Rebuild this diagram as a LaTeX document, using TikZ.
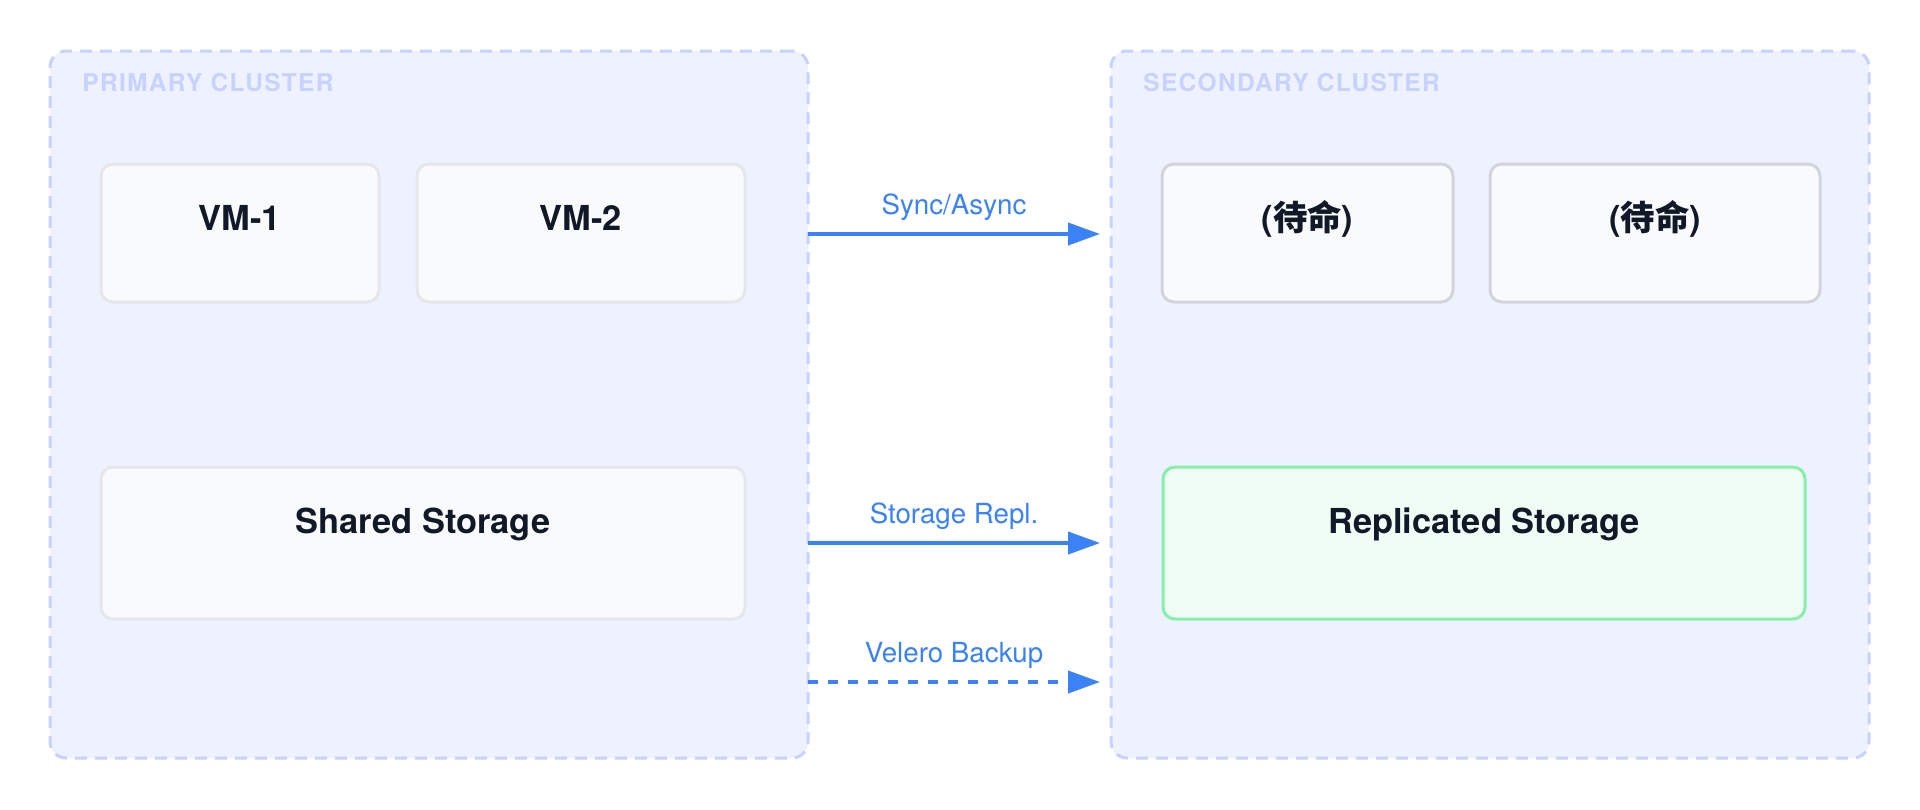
\documentclass[tikz,border=0pt]{standalone}
\usepackage{fontspec}
\setmainfont{TeX Gyre Heros}
\newfontfamily\cjk{Noto Sans CJK SC}
\newfontfamily\titlefont{TeX Gyre Heros}[LetterSpace=5.4]
\usetikzlibrary{arrows.meta}
\definecolor{clfill}{HTML}{EEF2FF}
\definecolor{cldraw}{HTML}{C7D2FE}
\definecolor{boxfill}{HTML}{F8FAFC}
\definecolor{boxdraw}{HTML}{E5E7EB}
\definecolor{sbdraw}{HTML}{D1D5DB}
\definecolor{grfill}{HTML}{F0FDF4}
\definecolor{grdraw}{HTML}{86EFAC}
\definecolor{txt}{HTML}{111827}
\definecolor{flowc}{HTML}{3B82F6}
\begin{document}
\begin{tikzpicture}[x=0.5pt,y=-0.5pt,
  cluster/.style={draw=cldraw, fill=clfill, line width=1.5pt, dash pattern=on 6pt off 4pt,
    rounded corners=8pt, minimum width=379pt, minimum height=353.5pt, inner sep=0pt, outer sep=0pt},
  cltitle/.style={anchor=base west, inner sep=0pt, text=cldraw, font=\titlefont\bfseries\fontsize{12.25pt}{14pt}\selectfont},
  vmbox/.style={draw=boxdraw, fill=boxfill, line width=1.5pt, rounded corners=6pt,
    inner xsep=0pt, inner ysep=0pt, text height=33pt, text depth=36pt, outer sep=0pt,
    text=txt, font=\bfseries\fontsize{17.2pt}{20pt}\selectfont},
  sbbox/.style={vmbox, draw=sbdraw},
  stbox/.style={vmbox, text depth=43pt},
  grbox/.style={stbox, draw=grdraw, fill=grfill},
  lbl/.style={anchor=base, inner sep=0pt, text=flowc, font=\fontsize{13.85pt}{16pt}\selectfont},
  flow/.style={draw=flowc, line width=2pt, -{Triangle[length=16pt,width=11pt]}},
  flowdash/.style={flow, dash pattern=on 5pt off 5pt}
]
\useasboundingbox (0,0) rectangle (1920,809);
\fill[white] (0,0) rectangle (1920,809);

% clusters
\node[cluster] (primary) at (429,404.5) {};
\node[cluster] (secondary) at (1490,404.5) {};
\node[cltitle] (ptitle) at (82,91) {PRIMARY CLUSTER};
\node[cltitle] (stitle) at (1143,91) {SECONDARY CLUSTER};

% primary contents
\node[vmbox, minimum width=139pt] (vm1) at (240,233) {VM-1};
\node[vmbox, minimum width=164pt] (vm2) at (581,233) {VM-2};
\node[stbox, minimum width=322pt] (shared) at (423,543) {Shared Storage};

% secondary contents
\node[sbbox, minimum width=145.5pt] (sb1) at (1307.5,233) {({\cjk 待命})};
\node[sbbox, minimum width=165pt] (sb2) at (1655,233) {({\cjk 待命})};
\node[grbox, minimum width=321pt] (repl) at (1484,543) {Replicated Storage};

% connectors
\coordinate (t1) at (1100,234);
\coordinate (t2) at (1100,543);
\coordinate (t3) at (1100,682);
\draw[flow] (primary.east |- t1) -- (t1);
\draw[flow] (primary.east |- t2) -- (t2);
\draw[flowdash] (primary.east |- t3) -- (t3);
\node[lbl] (l1) at (954,214) {Sync/Async};
\node[lbl] (l2) at (954,523) {Storage Repl.};
\node[lbl] (l3) at (954,662) {Velero Backup};
\end{tikzpicture}
\end{document}
